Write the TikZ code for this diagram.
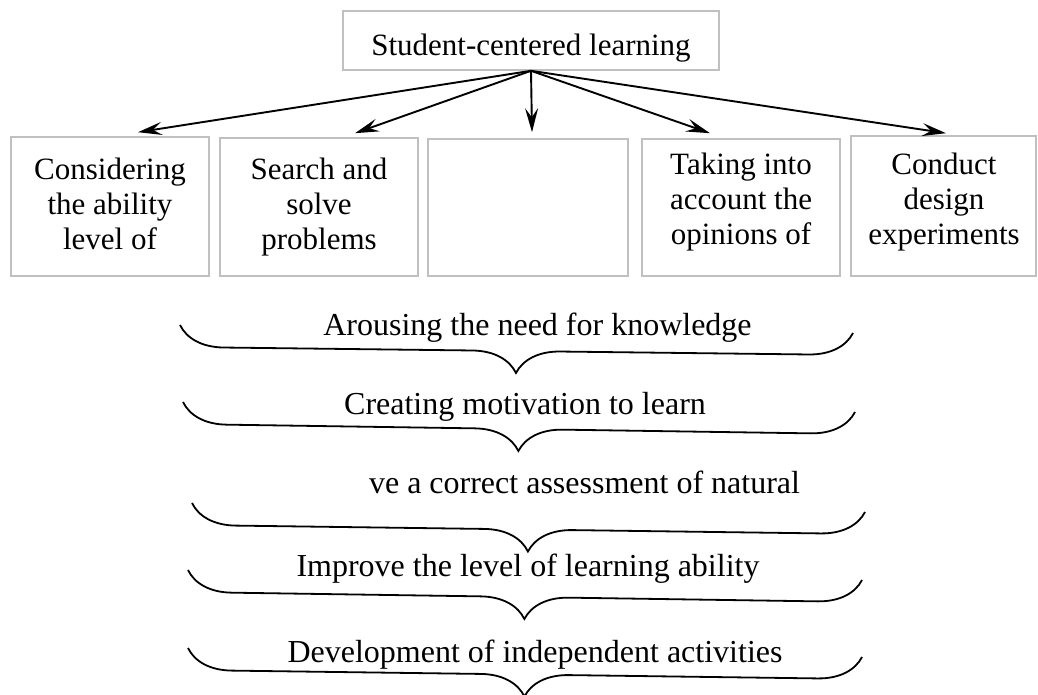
\documentclass[tikz,border=0pt]{standalone}
\usepackage{fontspec}
\setmainfont{Liberation Serif}
\usetikzlibrary{arrows.meta,calc,decorations.pathreplacing}
\definecolor{boxgray}{HTML}{C0C0C0}
\begin{document}
\begin{tikzpicture}[x=1pt,y=-1pt,
  box/.style={draw=boxgray, line width=1.6pt, inner sep=0pt},
  boxtext/.style={font=\fontsize{31}{35}\selectfont, align=center, inner sep=0pt, anchor=base},
  bracetext/.style={font=\fontsize{32}{36}\selectfont, inner sep=0pt, anchor=base},
  conn/.style={line width=1.9pt, -{Stealth[length=24pt,width=13pt,inset=9pt]}},
  bracepath/.style={line width=1.8pt, decorate, decoration={brace, amplitude=44pt}}]
\useasboundingbox (0,0) rectangle (1038,694);

% top box
\node[box, minimum width=376pt, text height=44pt, text depth=15pt, anchor=base,
      font=\fontsize{31}{35}\selectfont] (top) at (531,55) {Student-centered learning};

% row of boxes
\node[box, minimum width=198pt, minimum height=139pt] (b1) at (110,206.5) {};
\node[box, minimum width=198pt, minimum height=138pt] (b2) at (319,207) {};
\node[box, minimum width=200pt, minimum height=137pt] (b3) at (528,207.5) {};
\node[box, minimum width=198pt, minimum height=137pt] (b4) at (741,207.5) {};
\node[box, minimum width=185pt, minimum height=140pt] (b5) at (943.5,206) {};

% texts (base = last line)
\node[boxtext] (t1) at (110,249) {Considering\\the ability\\level of};
\node[boxtext] (t2) at (319,249) {Search and\\solve\\problems};
\node[boxtext] (t4) at (741,244) {Taking into\\account the\\opinions of};
\node[boxtext] (t5) at (944,244) {Conduct\\design\\experiments};

% connectors
\draw[conn] (top.south) -- ($(b1.north)+(28,-4)$);
\draw[conn] (top.south) -- ($(b2.north)+(36,-4)$);
\draw[conn] (top.south) -- ($(b3.north)+(4,-6)$);
\draw[conn] (top.south) -- ($(b4.north)+(-31,-5)$);
\draw[conn] (top.south) -- ($(b5.north)+(2.5,-2)$);

% braces and texts
\node[bracetext] (s1) at (537.5,335) {Arousing the need for knowledge};
\draw[bracepath] (853,333) -- (180,325);

\node[bracetext] (s2) at (525,414) {Creating motivation to learn};
\draw[bracepath] (855,412) -- (183,402);

\node[bracetext] (s3) at (584.5,493) {ve a correct assessment of natural};
\draw[bracepath] (865,512) -- (192,503);

\node[bracetext] (s4) at (528,576) {Improve the level of learning ability};
\draw[bracepath] (862,580) -- (188,570);

\node[bracetext] (s5) at (535,662) {Development of independent activities};
\draw[bracepath] (862,657) -- (188,648);
\end{tikzpicture}
\end{document}
